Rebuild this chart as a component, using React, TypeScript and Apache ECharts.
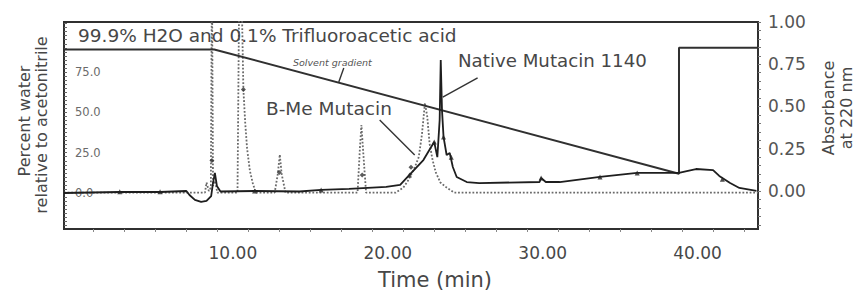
import React, { useEffect, useRef } from "react";
import * as echarts from "echarts";

// Solvent gradient (percent water, left axis)
const gradientTime = [-0.9, 8.8, 38.8, 38.8, 43.9];
const gradientWater = [89, 89, 12, 90, 90];

// Native Mutacin 1140 trace (solid, absorbance at 220 nm)
const nativeTime = [
  -0.9, 2.7, 5.3, 7.0, 7.2, 7.55, 7.95, 8.3, 8.6, 8.7, 8.84, 8.97, 9.2, 11.4, 14.3, 15.7, 17.5,
  19.9, 20.8, 21.4, 22.3, 22.8, 23.0, 23.2, 23.35, 23.42, 23.5, 23.6, 23.8, 24.0, 24.2, 24.45,
  25.1, 25.9, 29.8, 29.9, 30.2, 31.1, 33.7, 36.1, 38.8, 39.3, 39.9, 41.0, 41.4, 42.1, 42.7, 43.8,
];
const nativeAbs = [
  -0.012, -0.006, -0.006, 0.0, -0.024, -0.053, -0.065, -0.059, -0.03, 0.036, 0.107, 0.03, -0.003,
  0.0, -0.003, 0.006, 0.012, 0.024, 0.036, 0.095, 0.183, 0.26, 0.29, 0.2, 0.42, 0.775, 0.48, 0.32,
  0.213, 0.225, 0.142, 0.083, 0.053, 0.047, 0.053, 0.077, 0.053, 0.053, 0.083, 0.107, 0.107, 0.118,
  0.13, 0.124, 0.089, 0.047, 0.018, 0.0,
];

// B-Me Mutacin trace (dotted)
const bmeTime = [
  -0.9, 8.2, 8.3, 8.45, 8.58, 8.65, 8.72, 8.85, 9.0, 10.3, 10.42, 10.6, 10.68, 10.8, 10.92, 11.1,
  11.3, 11.5, 12.7, 12.9, 13.03, 13.15, 13.4, 18.05, 18.2, 18.3, 18.4, 18.6, 20.5, 21.0, 21.3, 21.7,
  22.0, 22.2, 22.4, 22.55, 22.7, 22.9, 23.1, 23.4, 23.8, 24.3, 43.9,
];
const bmeAbs = [
  -0.01, -0.01, 0.05, 0.0, 0.02, 1.3, 0.03, 0.06, -0.01, -0.01, 1.3, 1.0, 0.6, 0.4, 0.25, 0.12,
  0.04, -0.01, -0.01, 0.1, 0.215, 0.1, -0.01, -0.01, 0.25, 0.39, 0.25, -0.01, -0.01, 0.02, 0.06,
  0.13, 0.2, 0.33, 0.52, 0.44, 0.28, 0.18, 0.11, 0.05, 0.02, -0.01, -0.01,
];

// Peak markers
const nativeMarkTime = [2.7, 5.3, 11.4, 15.7, 21.4, 23.0, 23.6, 24.1, 29.9, 33.7, 36.1, 41.6];
const nativeMarkAbs = [-0.004, -0.004, 0.0, 0.006, 0.095, 0.29, 0.32, 0.2, 0.077, 0.083, 0.107, 0.07];
const bmeMarkTime = [8.65, 10.68, 13.0, 18.35, 21.5];
const bmeMarkAbs = [0.18, 0.6, 0.11, 0.095, 0.14];

// Axis ticks / labels
const timeLabels = [10, 20, 30, 40];
const timeTicks = [1, 3, 5, 7, 9, 11, 13, 15, 17, 19, 21, 23, 25, 27, 29, 31, 33, 35, 37, 39, 41, 43];
const waterLabels = [0, 25, 50, 75];
const absLabels = [0, 0.25, 0.5, 0.75, 1.0];

// Annotation leader lines [t1, a1, t2, a2]
const nativeLeader = [25.8, 0.669, 23.55, 0.556];
const bmeLeader = [19.48, 0.42, 21.74, 0.213];
const gradLeader = [17.16, 0.728, 16.84, 0.645];

const FONT = "DejaVu Sans";
const TXT = "#474747";
const LINE = "#303030";

function zip(a: number[], b: number[]) {
  return a.map((v, i) => [v, b[i]]);
}

export default function App() {
  const ref = useRef<HTMLDivElement>(null);
  useEffect(() => {
    if (!ref.current) return;
    const chart = echarts.init(ref.current, null, { renderer: "svg" });
    const waterTicks: number[] = [];
    for (let v = -20; v <= 105; v += 2.5) waterTicks.push(v);
    const absTicks: number[] = [];
    for (let v = -0.2; v <= 1.0001; v += 0.05) absTicks.push(Math.round(v * 100) / 100);

    const leader = (p: number[]) => [
      { coord: [p[0], p[1]] },
      { coord: [p[2], p[3]] },
    ];

    const option: any = {
      animation: false,
      backgroundColor: "#ffffff",
      grid: {
        left: 64,
        right: 100,
        top: 22,
        bottom: 67,
        show: true,
        borderColor: LINE,
        borderWidth: 2,
        backgroundColor: "transparent",
      },
      xAxis: {
        type: "value",
        min: -0.9,
        max: 43.9,
        axisLine: { show: true, onZero: false, lineStyle: { color: LINE, width: 2 } },
        axisTick: {
          show: true,
          customValues: timeTicks,
          length: 3,
          lineStyle: { color: "#888", width: 1 },
        },
        axisLabel: {
          customValues: timeLabels,
          formatter: (v: number) => v.toFixed(2),
          fontSize: 17,
          fontFamily: FONT,
          color: TXT,
          margin: 15,
        },
        splitLine: { show: false },
      },
      yAxis: [
        {
          type: "value",
          position: "left",
          min: -22.3,
          max: 106,
          axisLine: { show: true, onZero: false, lineStyle: { color: LINE, width: 2 } },
          axisTick: {
            show: true,
            inside: true,
            customValues: waterTicks,
            length: 3,
            lineStyle: { color: "#666", width: 1 },
          },
          axisLabel: {
            inside: true,
            customValues: waterLabels,
            formatter: (v: number) => v.toFixed(1),
            fontSize: 11.5,
            fontFamily: FONT,
            color: "#6a6a6a",
            margin: 11,
          },
          splitLine: { show: false },
        },
        {
          type: "value",
          position: "right",
          min: -0.225,
          max: 1.0,
          axisLine: { show: true, onZero: false, lineStyle: { color: LINE, width: 2 } },
          axisTick: {
            show: true,
            customValues: absTicks,
            length: 3,
            lineStyle: { color: "#777", width: 1 },
          },
          axisLabel: {
            customValues: absLabels,
            formatter: (v: number) => v.toFixed(2),
            fontSize: 17,
            fontFamily: FONT,
            color: "#555",
            margin: 10,
          },
          splitLine: { show: false },
        },
      ],
      series: [
        {
          type: "line",
          name: "Solvent gradient",
          yAxisIndex: 0,
          data: zip(gradientTime, gradientWater),
          symbol: "none",
          lineStyle: { color: LINE, width: 2 },
          z: 3,
        },
        {
          type: "line",
          name: "B-Me Mutacin",
          yAxisIndex: 1,
          data: zip(bmeTime, bmeAbs),
          symbol: "none",
          clip: true,
          lineStyle: { color: "#6a6a6a", width: 1.8, type: "dotted" },
          z: 2,
        },
        {
          type: "line",
          name: "Native Mutacin 1140",
          yAxisIndex: 1,
          data: zip(nativeTime, nativeAbs),
          symbol: "none",
          clip: true,
          lineStyle: { color: "#1e1e1e", width: 1.8 },
          z: 4,
          markLine: {
            silent: true,
            symbol: ["none", "none"],
            label: { show: false },
            lineStyle: { color: "#333", width: 1.4, type: "solid" },
            data: [leader(nativeLeader), leader(bmeLeader), leader(gradLeader)],
          },
        },
        {
          type: "scatter",
          yAxisIndex: 1,
          data: zip(nativeMarkTime, nativeMarkAbs),
          symbol: "triangle",
          symbolSize: 5,
          itemStyle: { color: "#222" },
          z: 5,
        },
        {
          type: "scatter",
          yAxisIndex: 1,
          data: zip(bmeMarkTime, bmeMarkAbs),
          symbol: "diamond",
          symbolSize: 5,
          itemStyle: { color: "#333" },
          z: 5,
        },
      ],
      graphic: [
        {
          type: "text",
          x: 78,
          y: 35,
          z: 10,
          style: {
            text: "99.9% H2O and 0.1% Trifluoroacetic acid",
            font: `18.5px "${FONT}"`,
            fill: TXT,
            verticalAlign: "middle",
            align: "left",
          },
        },
        {
          type: "text",
          x: 293,
          y: 62,
          z: 10,
          style: {
            text: "Solvent gradient",
            font: `italic 9.5px "${FONT}"`,
            fill: "#555",
            verticalAlign: "middle",
            align: "left",
          },
        },
        {
          type: "text",
          x: 458,
          y: 60,
          z: 10,
          style: {
            text: "Native Mutacin 1140",
            font: `18.2px "${FONT}"`,
            fill: TXT,
            verticalAlign: "middle",
            align: "left",
          },
        },
        {
          type: "text",
          x: 266,
          y: 108,
          z: 10,
          style: {
            text: "B-Me Mutacin",
            font: `18.5px "${FONT}"`,
            fill: TXT,
            verticalAlign: "middle",
            align: "left",
          },
        },
        {
          type: "text",
          x: 435,
          y: 280,
          z: 10,
          style: {
            text: "Time (min)",
            font: `21px "${FONT}"`,
            fill: TXT,
            verticalAlign: "middle",
            align: "center",
          },
        },
        {
          type: "text",
          x: 24,
          y: 121,
          rotation: Math.PI / 2,
          z: 10,
          style: {
            text: "Percent water",
            font: `16px "${FONT}"`,
            fill: TXT,
            verticalAlign: "middle",
            align: "center",
          },
        },
        {
          type: "text",
          x: 41,
          y: 125,
          rotation: Math.PI / 2,
          z: 10,
          style: {
            text: "relative to acetonitrile",
            font: `16px "${FONT}"`,
            fill: TXT,
            verticalAlign: "middle",
            align: "center",
          },
        },
        {
          type: "text",
          x: 828,
          y: 108,
          rotation: Math.PI / 2,
          z: 10,
          style: {
            text: "Absorbance",
            font: `16px "${FONT}"`,
            fill: TXT,
            verticalAlign: "middle",
            align: "center",
          },
        },
        {
          type: "text",
          x: 846,
          y: 108,
          rotation: Math.PI / 2,
          z: 10,
          style: {
            text: "at 220 nm",
            font: `16px "${FONT}"`,
            fill: TXT,
            verticalAlign: "middle",
            align: "center",
          },
        },
      ],
    };
    chart.setOption(option);
    return () => {
      chart.dispose();
    };
  }, []);
  return (
    <div
      ref={ref}
      style={{ position: "fixed", left: 0, top: 0, width: 858, height: 296, background: "#fff" }}
    />
  );
}
